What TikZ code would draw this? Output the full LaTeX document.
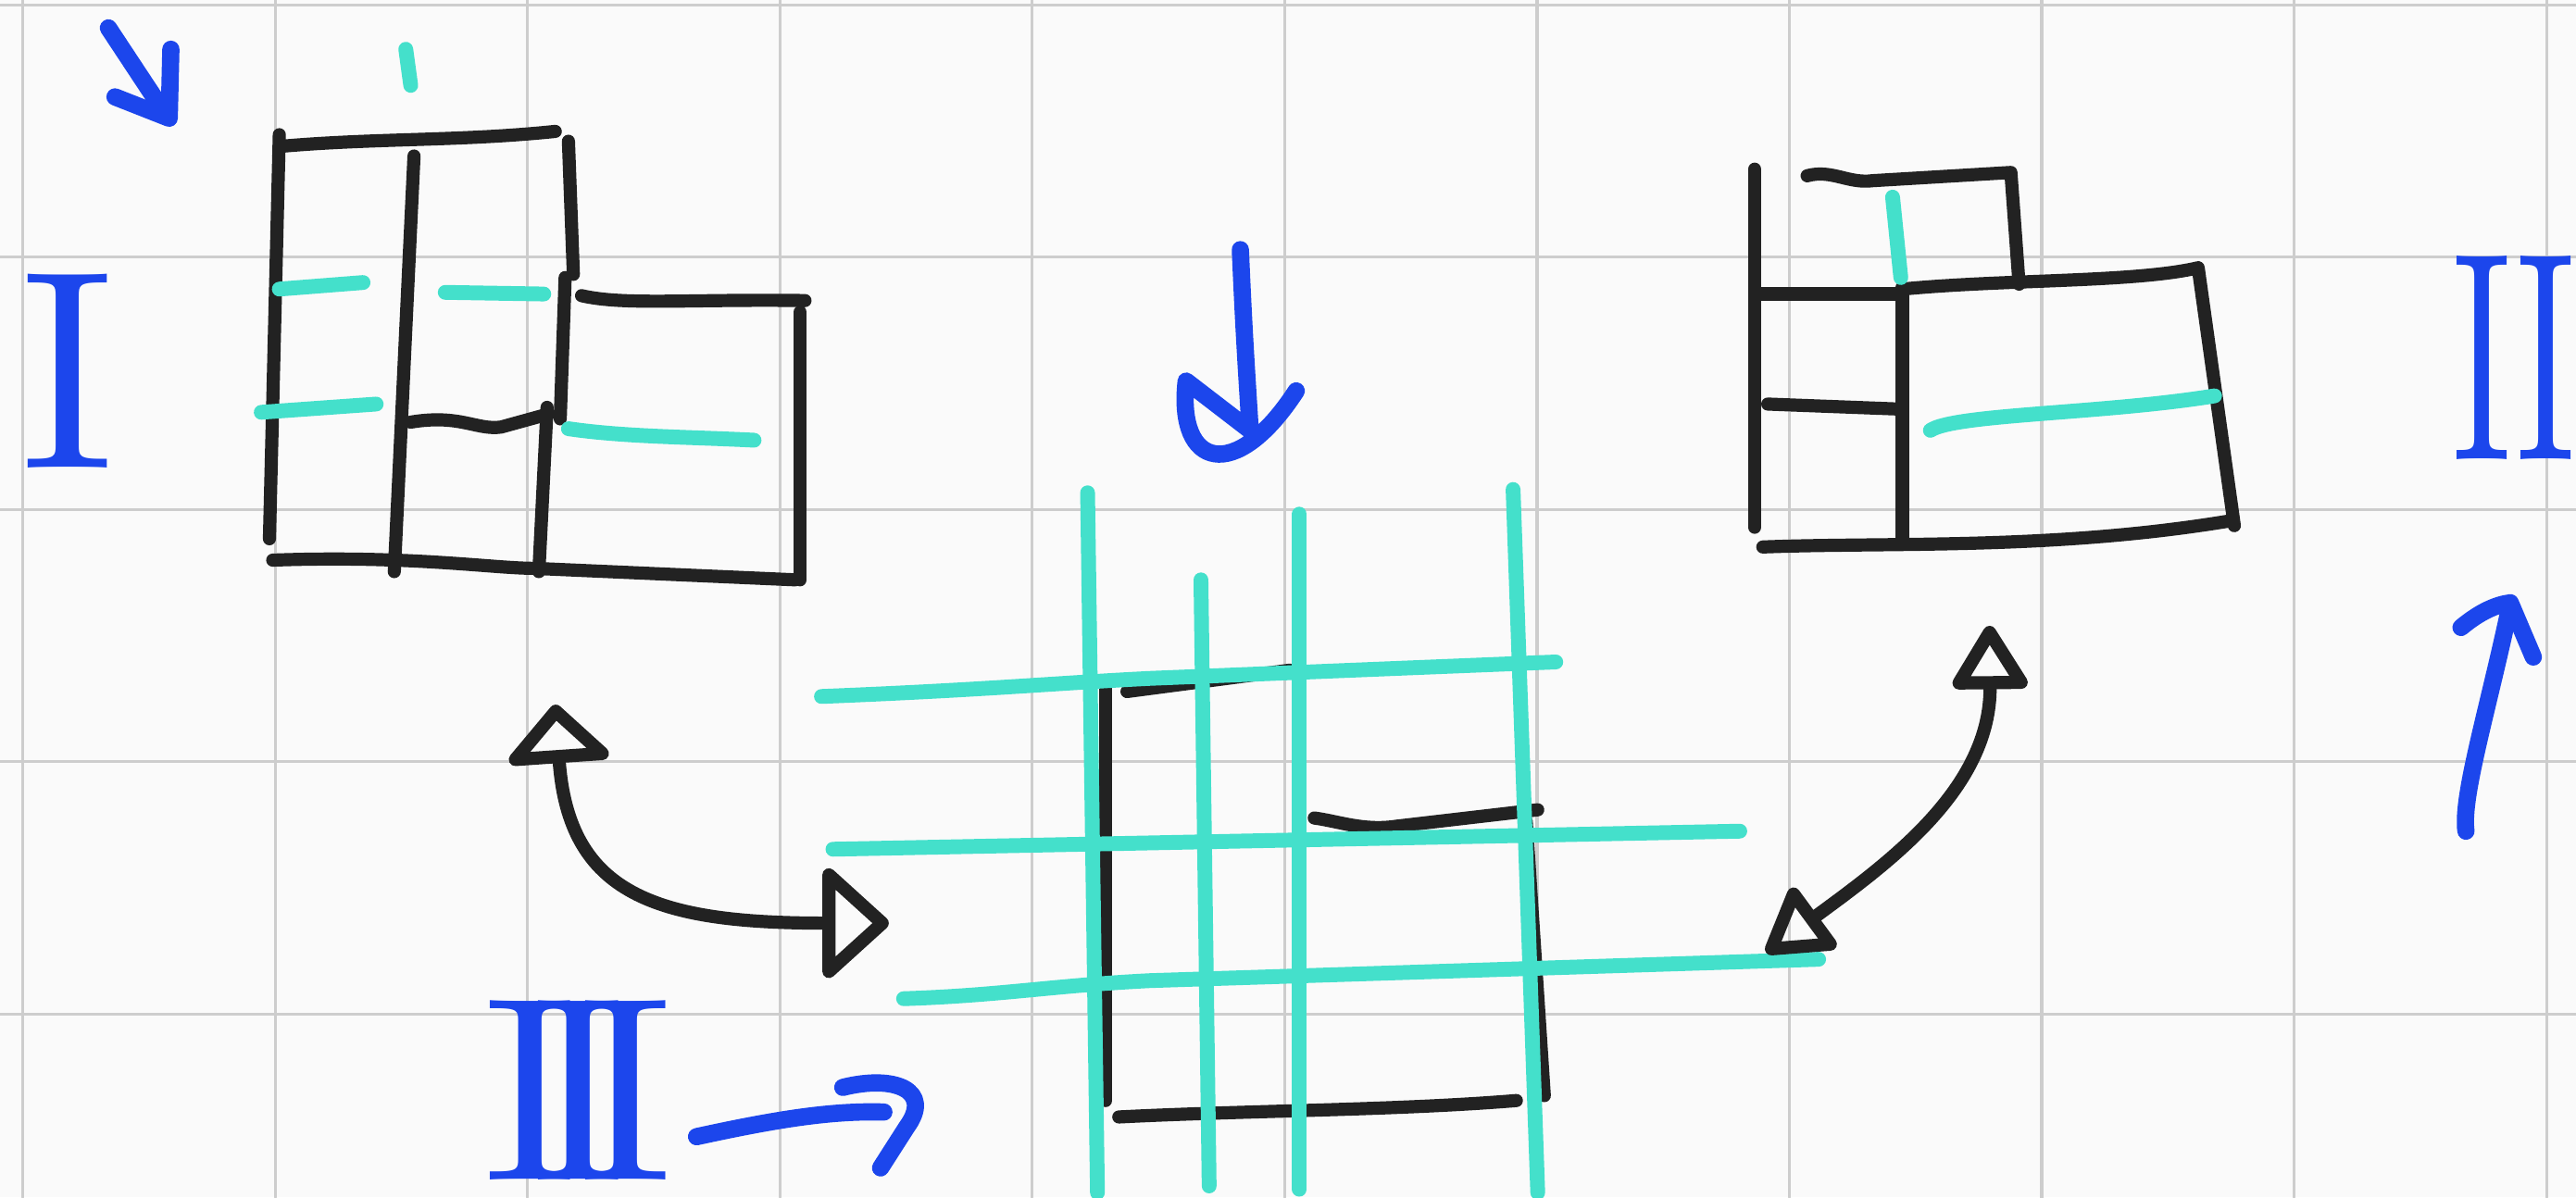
\documentclass[tikz,border=0pt]{standalone}
\usepackage{graphicx}
\usetikzlibrary{arrows.meta}
\definecolor{inkblack}{HTML}{222222}
\definecolor{inkblue}{HTML}{1C46EC}
\definecolor{inkcyan}{HTML}{44E0CB}
\definecolor{paper}{HTML}{FAFAFA}
\definecolor{gridgray}{HTML}{CDCDCD}
\begin{document}
\begin{tikzpicture}[
    x=0.2mm, y=-0.2mm,
    line cap=round, line join=round,
    paper grid/.style={gridgray, line width=0.35mm},
    wall/.style={inkblack, line width=1.6mm},
    cut/.style={inkcyan, line width=1.8mm},
    pen/.style={inkblue, line width=2.1mm},
    numeral/.style={inkblue, inner sep=0pt},
    swap arrow/.style={inkblack, line width=1.6mm,
      {Triangle[open,round,length=7.5mm,width=14mm]}-{Triangle[open,round,length=8.5mm,width=15mm]}},
    swap arrow small/.style={inkblack, line width=1.6mm,
      {Triangle[open,round,length=8.5mm,width=10mm]}-{Triangle[open,round,length=8.5mm,width=10mm]}}
  ]
  \fill[paper] (0,0) rectangle (1568,729);
  \useasboundingbox (0,0) rectangle (1568,729);
  \foreach \gx in {0,...,10}
    \draw[paper grid] ({14+153.6*\gx},0) -- ({14+153.6*\gx},729);
  \foreach \gy in {0,...,4}
    \draw[paper grid] (0,{3+153.6*\gy}) -- (1568,{3+153.6*\gy});

  % view I
  \draw[wall] (170,82) -- (164,328);
  \draw[wall] (172,89) .. controls (230,84) and (280,86) .. (338,80);
  \draw[wall] (346,86) -- (349,167);
  \draw[wall] (252,95) -- (240,348);
  \draw[wall] (344,169) -- (341,255);
  \draw[wall] (333,248) -- (328,348);
  \draw[wall] (250,257) .. controls (280,252) and (290,262) .. (305,260) -- (334,252);
  \draw[wall] (354,180) .. controls (380,186) and (420,182) .. (490,183);
  \draw[wall] (487,190) -- (487,353);
  \draw[wall] (166,341) .. controls (250,338) and (300,346) .. (325,346) -- (484,353);
  \draw[cut] (247,30) -- (250,52);
  \draw[cut] (170,176) -- (221,172);
  \draw[cut] (271,178) -- (331,179);
  \draw[cut] (159,251) -- (229,246);
  \draw[cut] (346,261) .. controls (380,266) and (420,266) .. (459,268);

  % plan
  \draw[wall] (673,419) -- (673,670);
  \draw[wall] (686,421) -- (785,408);
  \draw[wall] (791,408) -- (791,500);
  \draw[wall] (800,498) .. controls (815,500) and (830,506) .. (850,503) -- (936,493);
  \draw[wall] (929,500) -- (940,667);
  \draw[wall] (681,680) .. controls (760,676) and (850,676) .. (923,670);
  \draw[cut] (662,300) -- (668,726);
  \draw[cut] (731,353) -- (736,722);
  \draw[cut] (791,313) -- (791,724);
  \draw[cut] (921,298) -- (936,726);
  \draw[cut] (500,424) .. controls (600,420) and (640,416) .. (700,413) -- (947,403);
  \draw[cut] (507,517) -- (1059,506);
  \draw[cut] (550,608) .. controls (610,606) and (640,600) .. (700,597) -- (1107,584);

  % view II
  \draw[wall] (1068,103) -- (1068,321);
  \draw[wall] (1100,107) .. controls (1115,103) and (1125,112) .. (1140,110) -- (1224,105) -- (1229,173);
  \draw[wall] (1071,179) -- (1155,179);
  \draw[wall] (1158,176) .. controls (1220,170) and (1300,172) .. (1338,163) -- (1360,320);
  \draw[wall] (1158,175) -- (1158,329);
  \draw[wall] (1076,246) -- (1155,249);
  \draw[wall] (1073,333) .. controls (1150,330) and (1250,335) .. (1358,317);
  \draw[cut] (1152,120) -- (1157,169);
  \draw[cut] (1175,262) .. controls (1190,252) and (1280,252) .. (1348,241);

  \coordinate (left up) at (338,429);
  \coordinate (left right) at (541,562);
  \coordinate (right down) at (1075,580);
  \coordinate (right up) at (1211,381);
  \draw[swap arrow] (left up) .. controls (346,545) and (400,562) .. (left right);
  \draw[swap arrow small] (right down) .. controls (1150,525) and (1212,480) .. (right up);

  \draw[pen] (66,17) -- (101,70);
  \draw[pen] (104,30) -- (103,72) -- (70,59);
  \draw[pen] (755,152) .. controls (757,200) and (759,230) .. (761,262) -- (722,232)
    .. controls (716,285) and (752,295) .. (789,238);
  \draw[pen] (424,692) .. controls (470,682) and (505,676) .. (538,677);
  \draw[pen] (513,662) .. controls (545,654) and (568,664) .. (552,686) -- (536,711);
  \draw[pen] (1501,506) .. controls (1498,485) and (1515,430) .. (1528,368);
  \draw[pen] (1498,382) .. controls (1510,372) and (1520,368) .. (1528,367) -- (1542,400);

  \node[numeral] (one) at (41,226) {\resizebox{11.4mm}{23.6mm}{I}};
  \node[numeral] (two) at (1530,218) {\resizebox{15mm}{24.8mm}{II}};
  \node[numeral] (three) at (352,664) {\scalebox{9.1}{I\kern-1.8pt I\kern-1.8pt I}};
\end{tikzpicture}
\end{document}
